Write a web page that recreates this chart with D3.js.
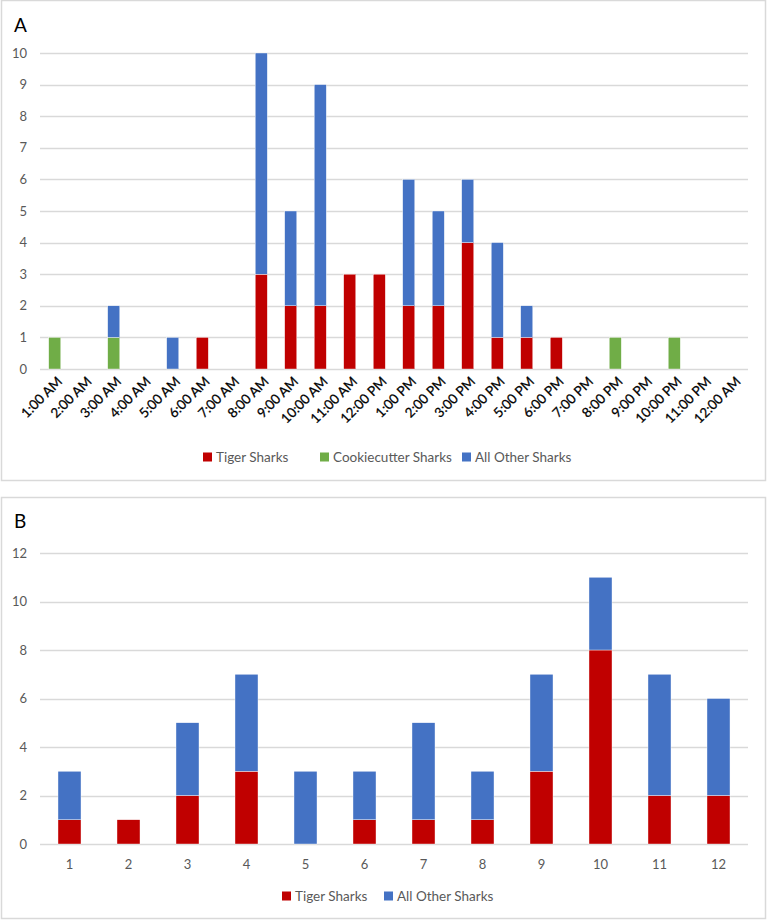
<!DOCTYPE html>
<html><head><meta charset="utf-8">
<script src="https://cdn.jsdelivr.net/npm/d3@7"></script>
<style>
body{margin:0;background:#fff;}
svg{display:block;font-family:Lato,"Open Sans",sans-serif;}
</style></head><body>
<svg id="c" width="767" height="921"></svg>
<script>
const hoursA = ["1:00 AM","2:00 AM","3:00 AM","4:00 AM","5:00 AM","6:00 AM","7:00 AM","8:00 AM","9:00 AM","10:00 AM","11:00 AM","12:00 PM","1:00 PM","2:00 PM","3:00 PM","4:00 PM","5:00 PM","6:00 PM","7:00 PM","8:00 PM","9:00 PM","10:00 PM","11:00 PM","12:00 AM"];
const tigerA  = [0,0,0,0,0,1,0,3,2,2,3,3,2,2,4,1,1,1,0,0,0,0,0,0];
const cookieA = [1,0,1,0,0,0,0,0,0,0,0,0,0,0,0,0,0,0,0,1,0,1,0,0];
const otherA  = [0,0,1,0,1,0,0,7,3,7,0,0,4,3,2,3,1,0,0,0,0,0,0,0];
const ticksA = [0,1,2,3,4,5,6,7,8,9,10];

const monthsB = ["1","2","3","4","5","6","7","8","9","10","11","12"];
const tigerB = [1,1,2,3,0,1,1,1,3,8,2,2];
const otherB = [2,0,3,4,3,2,4,2,4,3,5,4];
const ticksB = [0,2,4,6,8,10,12];

const RED="#C00000", GREEN="#70AD47", BLUE="#4472C4", GRID="#D9D9D9", TXT="#595959";
const svg = d3.select("#c");

function panel(o){
  const g = svg.append("g");
  g.append("rect").attr("x",o.box[0]+0.5).attr("y",o.box[1]+0.5)
    .attr("width",o.box[2]-o.box[0]).attr("height",o.box[3]-o.box[1])
    .attr("fill","#fff").attr("stroke",GRID).attr("stroke-width",1.5);
  g.append("text").attr("x",14).attr("y",o.letterY).attr("font-size",19)
    .attr("fill","#000").text(o.letter);
  const x = d3.scaleBand().domain(o.cats).range([40,748]).paddingInner(o.pad).paddingOuter(o.pad/2);
  const y = d3.scaleLinear().domain([0,o.ymax]).range([o.y0,o.ytop]);
  g.selectAll(".gl").data(o.ticks).join("line")
    .attr("x1",40).attr("x2",748).attr("y1",d=>Math.round(y(d))+0.5).attr("y2",d=>Math.round(y(d))+0.5)
    .attr("stroke",GRID).attr("stroke-width",1.3);
  g.selectAll(".yl").data(o.ticks).join("text")
    .attr("x",27).attr("y",d=>y(d)).attr("dy","0.35em").attr("text-anchor","end")
    .attr("font-size",13).attr("fill",TXT).text(d=>d);
  const rows = o.cats.map((c,i)=>{const r={cat:c}; o.series.forEach(s=>r[s.key]=s.vals[i]); return r;});
  const stack = d3.stack().keys(o.series.map(s=>s.key))(rows);
  stack.forEach((layer,li)=>{
    g.append("g").attr("fill",o.series[li].color).selectAll("rect").data(layer).join("rect")
      .attr("x",d=>x(d.data.cat)).attr("width",x.bandwidth())
      .attr("y",d=>y(d[1])).attr("height",d=>y(d[0])-y(d[1]))
      .attr("stroke","#fff").attr("stroke-width",0.4);
  });
  if(o.rotate){
    g.selectAll(".xl").data(o.cats).join("text")
      .attr("transform",d=>`translate(${x(d)+x.bandwidth()/2+5},${o.y0+10}) rotate(-45)`)
      .attr("text-anchor","end").attr("dy","0.35em").attr("font-size",13.5)
      .attr("fill","#000").attr("stroke","#000").attr("stroke-width",0.25).text(d=>d);
  } else {
    g.selectAll(".xl").data(o.cats).join("text")
      .attr("x",d=>x(d)+x.bandwidth()/2).attr("y",o.y0+20).attr("dy","0.35em")
      .attr("text-anchor","middle").attr("font-size",13).attr("fill",TXT).text(d=>d);
  }
  o.legend.forEach((L,i)=>{
    g.append("rect").attr("x",L.x).attr("y",o.legY-4.5).attr("width",9).attr("height",9).attr("fill",o.series[i].color);
    g.append("text").attr("x",L.x+13).attr("y",o.legY).attr("dy","0.35em").attr("font-size",13.5)
      .attr("fill",TXT).text(o.series[i].key);
  });
}

panel({box:[1,0,765,480], letter:"A", letterY:32, cats:hoursA, pad:0.59, ymax:10, y0:369, ytop:53, ticks:ticksA,
  series:[{key:"Tiger Sharks",vals:tigerA,color:RED},{key:"Cookiecutter Sharks",vals:cookieA,color:GREEN},{key:"All Other Sharks",vals:otherA,color:BLUE}],
  rotate:true, legY:457, legend:[{x:203},{x:320},{x:462}]});

panel({box:[1,497,765,918], letter:"B", letterY:528, cats:monthsB, pad:0.61, ymax:12, y0:844, ytop:553, ticks:ticksB,
  series:[{key:"Tiger Sharks",vals:tigerB,color:RED},{key:"All Other Sharks",vals:otherB,color:BLUE}],
  rotate:false, legY:896, legend:[{x:282},{x:384}]});
</script>
</body></html>
